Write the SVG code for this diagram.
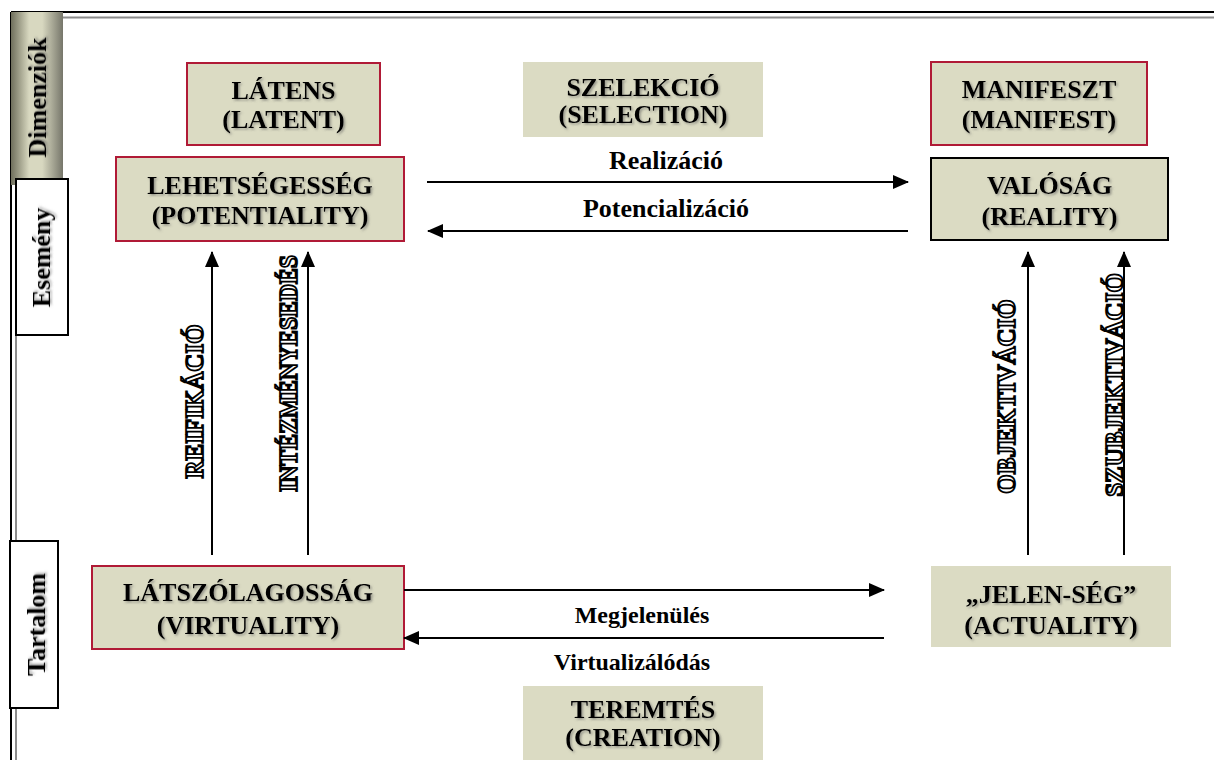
<svg xmlns="http://www.w3.org/2000/svg" width="1214" height="760" viewBox="0 0 1214 760">
<defs>
<linearGradient id="tabg" x1="0" y1="0" x2="1" y2="0">
<stop offset="0" stop-color="#6f6f5c"/>
<stop offset="0.35" stop-color="#d8d8c0"/>
<stop offset="0.6" stop-color="#d8d8c0"/>
<stop offset="1" stop-color="#76766a"/>
</linearGradient>
<filter id="sh" x="-10%" y="-30%" width="120%" height="160%">
<feDropShadow dx="1.5" dy="1.5" stdDeviation="1" flood-color="#555" flood-opacity="0.55"/>
</filter>
<marker id="ah" markerWidth="16" markerHeight="14" refX="15" refY="7" orient="auto" markerUnits="userSpaceOnUse">
<path d="M0,0 L16,7 L0,14 Z" fill="#000"/>
</marker>
</defs>
<style>
text{font-family:"Liberation Serif","Times New Roman",serif;font-weight:bold;fill:#000}
.box{fill:#dbdbc3}
.red{stroke:#b01a36;stroke-width:2}
.blk{stroke:#000;stroke-width:2}
.bt{font-size:26px;text-anchor:middle;filter:url(#sh)}
.lab{font-size:26px;text-anchor:middle}
.lab2{font-size:24px;text-anchor:middle}
.vl{font-size:25px;text-anchor:middle;fill:#fff;stroke:#000;stroke-width:1.8}
.tab{font-size:26px;text-anchor:middle;filter:url(#sh)}
.ln{stroke:#000;stroke-width:2;fill:none;marker-end:url(#ah)}
</style>
<rect width="1214" height="760" fill="#fff"/>
<g id="frame">
<line x1="11" y1="12" x2="1214" y2="12" stroke="#000" stroke-width="2"/>
<line x1="16" y1="17.5" x2="1214" y2="17.5" stroke="#8c8c8c" stroke-width="2"/>
<line x1="11" y1="12" x2="11" y2="760" stroke="#000" stroke-width="2"/>
<line x1="16" y1="17" x2="16" y2="760" stroke="#8c8c8c" stroke-width="2"/>
</g>
<g id="tab-dimenziok">
<rect x="11" y="12" width="52" height="173" fill="url(#tabg)"/>
<text class="tab" transform="translate(46,97.5) rotate(-90)">Dimenziók</text>
</g>
<g id="tab-esemeny">
<rect x="16" y="179" width="52" height="156" fill="#fff" stroke="#000" stroke-width="2"/>
<text class="tab" transform="translate(50,257.5) rotate(-90)">Esemény</text>
</g>
<g id="tab-tartalom">
<rect x="10" y="541" width="48" height="167" fill="#fff" stroke="#000" stroke-width="2"/>
<text class="tab" transform="translate(45,624.5) rotate(-90)">Tartalom</text>
</g>
<g id="latens">
<rect class="box red" x="187" y="63" width="193" height="82"/>
<text class="bt" x="283.5" y="99">LÁTENS</text>
<text class="bt" x="283.5" y="128">(LATENT)</text>
</g>
<g id="szelekcio">
<rect class="box" x="523" y="62" width="240" height="75"/>
<text class="bt" x="643" y="96">SZELEKCIÓ</text>
<text class="bt" x="643" y="123">(SELECTION)</text>
</g>
<g id="manifeszt">
<rect class="box red" x="931" y="62" width="216" height="83"/>
<text class="bt" x="1039" y="98">MANIFESZT</text>
<text class="bt" x="1039" y="128">(MANIFEST)</text>
</g>
<g id="lehetsegesseg">
<rect class="box red" x="116" y="157" width="288" height="84"/>
<text class="bt" x="260" y="194">LEHETSÉGESSÉG</text>
<text class="bt" x="260" y="224">(POTENTIALITY)</text>
</g>
<g id="valosag">
<rect class="box blk" x="931" y="158" width="237" height="82"/>
<text class="bt" x="1049.5" y="194">VALÓSÁG</text>
<text class="bt" x="1049.5" y="225">(REALITY)</text>
</g>
<g id="latszolagossag">
<rect class="box red" x="92" y="566" width="312" height="83"/>
<text class="bt" x="248" y="601">LÁTSZÓLAGOSSÁG</text>
<text class="bt" x="248" y="634">(VIRTUALITY)</text>
</g>
<g id="jelenseg">
<rect class="box" x="931" y="566" width="240" height="81"/>
<text class="bt" x="1051" y="603">„JELEN-SÉG”</text>
<text class="bt" x="1051" y="634">(ACTUALITY)</text>
</g>
<g id="teremtes">
<rect class="box" x="523" y="686" width="240" height="74"/>
<text class="bt" x="643" y="718">TEREMTÉS</text>
<text class="bt" x="643" y="746">(CREATION)</text>
</g>
<g id="connectors">
<line class="ln" x1="427" y1="182" x2="908" y2="182"/>
<line class="ln" x1="908" y1="231" x2="428" y2="231"/>
<line class="ln" x1="404" y1="590" x2="884" y2="590"/>
<line class="ln" x1="884" y1="638" x2="404" y2="638"/>
<line class="ln" x1="212" y1="555" x2="212" y2="252"/>
<line class="ln" x1="308" y1="555" x2="308" y2="252"/>
<line class="ln" x1="1028" y1="555" x2="1028" y2="252"/>
<line class="ln" x1="1124" y1="555" x2="1124" y2="252"/>
<text class="lab" x="666" y="169">Realizáció</text>
<text class="lab" x="666" y="217">Potencializáció</text>
<text class="lab2" x="642" y="623">Megjelenülés</text>
<text class="lab2" x="632" y="670">Virtualizálódás</text>
<text class="vl" transform="translate(203,401.5) rotate(-90)">REIFIKÁCIÓ</text>
<text class="vl" transform="translate(297,373.5) rotate(-90)" textLength="237" lengthAdjust="spacingAndGlyphs">INTÉZMÉNYESEDÉS</text>
<text class="vl" transform="translate(1015,396.5) rotate(-90)">OBJEKTIVÁCIÓ</text>
<text class="vl" transform="translate(1123,385) rotate(-90)">SZUBJEKTIVÁCIÓ</text>
</g>
</svg>
